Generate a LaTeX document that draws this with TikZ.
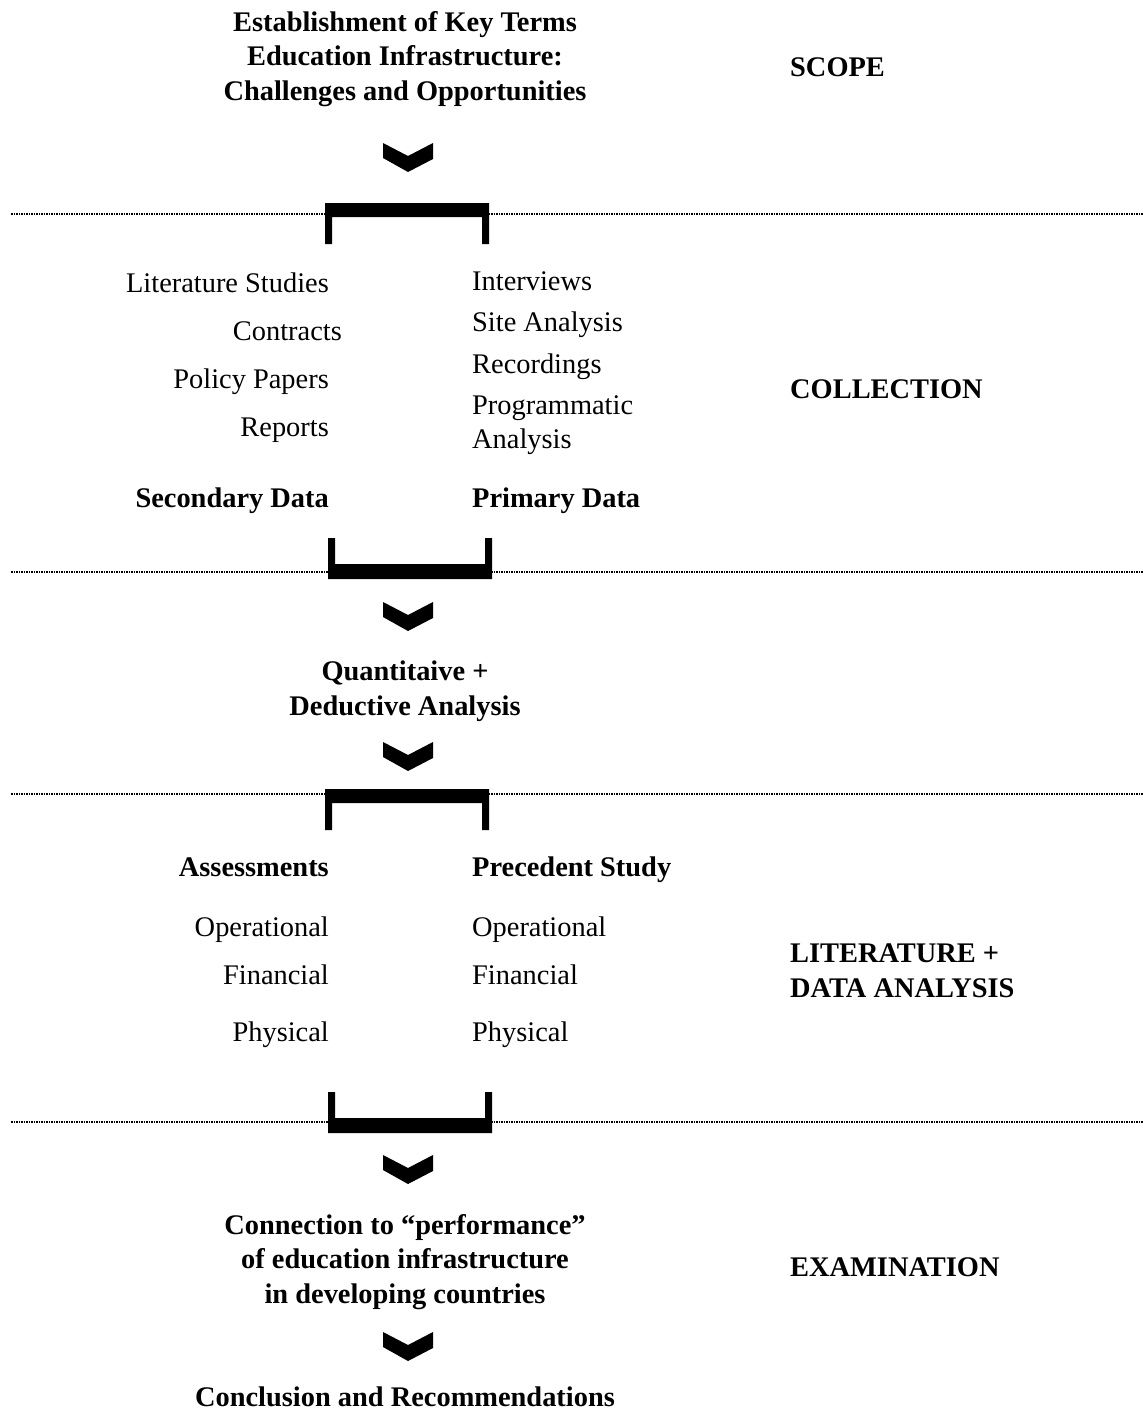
\documentclass[tikz,border=0pt]{standalone}
\usepackage{fontspec}
\setmainfont{Liberation Serif}
\begin{document}
\begin{tikzpicture}[x=1pt,y=-1pt,
  txt/.style={font=\fontsize{28.4}{34.5}\selectfont, inner sep=0pt},
  btxt/.style={font=\fontsize{28.4}{34.5}\selectfont\bfseries, inner sep=0pt, align=center},
  rlab/.style={btxt, anchor=base west, align=left},
  lcol/.style={txt, anchor=base east},
  rcol/.style={txt, anchor=base west},
  sep/.style={line width=1.5pt, dash pattern=on 1.5pt off 1pt},
  chev/.pic={\fill (-25,0) -- (0,13) -- (25,0) -- (25,16) -- (0,29) -- (-25,15) -- cycle;},
  topbr/.pic={\fill (0,0) -- (164,0) -- (164,41) -- (157,41) -- (157,14) -- (7,14) -- (7,41) -- (0,41) -- cycle;},
  botbr/.pic={\fill (0,0) -- (7,0) -- (7,26) -- (157,26) -- (157,0) -- (164,0) -- (164,41) -- (0,41) -- cycle;}
]
\useasboundingbox (0,0) rectangle (1143,1409);

% separators
\draw[sep] (11,214) -- (1143,214);
\draw[sep] (11,572) -- (1143,572);
\draw[sep] (11,794) -- (1143,794);
\draw[sep] (11,1122) -- (1143,1122);

% title
\node[btxt, anchor=base] (title) at (405,100) {Establishment of Key Terms\\Education Infrastructure:\\Challenges and Opportunities};
\node[rlab] (scope) at (790,76) {SCOPE};

\pic at (408,143) {chev};
\pic at (325,203) {topbr};

% collection
\node[lcol] (lit) at (329,292) {Literature Studies};
\node[lcol] (con) at (342,340) {Contracts};
\node[lcol] (pol) at (329,388) {Policy Papers};
\node[lcol] (rep) at (329,436) {Reports};
\node[lcol, font=\fontsize{28.4}{34.5}\selectfont\bfseries] (sec) at (329,507) {Secondary Data};

\node[rcol] (int) at (472,290) {Interviews};
\node[rcol] (site) at (472,331) {Site Analysis};
\node[rcol] (rec) at (472,373) {Recordings};
\node[rcol] (prog) at (472,414) {Programmatic};
\node[rcol] (ana) at (472,448) {Analysis};
\node[rcol, font=\fontsize{28.4}{34.5}\selectfont\bfseries] (pri) at (472,507) {Primary Data};

\node[rlab] (coll) at (790,398) {COLLECTION};

\pic at (328,538) {botbr};
\pic at (408,602) {chev};

\node[btxt, anchor=base] (quant) at (405,715) {Quantitaive +\\Deductive Analysis};

\pic at (408,742) {chev};
\pic at (325,789) {topbr};

% literature + data analysis
\node[lcol, font=\fontsize{28.4}{34.5}\selectfont\bfseries] (ass) at (329,876) {Assessments};
\node[rcol, font=\fontsize{28.4}{34.5}\selectfont\bfseries] (prec) at (472,876) {Precedent Study};
\node[lcol] (op1) at (329,936) {Operational};
\node[lcol] (fi1) at (329,984) {Financial};
\node[lcol] (ph1) at (329,1041) {Physical};
\node[rcol] (op2) at (472,936) {Operational};
\node[rcol] (fi2) at (472,984) {Financial};
\node[rcol] (ph2) at (472,1041) {Physical};

\node[rlab] (lda) at (790,997) {LITERATURE +\\DATA ANALYSIS};

\pic at (328,1092) {botbr};
\pic at (408,1155) {chev};

\node[btxt, anchor=base] (conn) at (405,1303) {Connection to “performance”\\of education infrastructure\\in developing countries};
\node[rlab] (exam) at (790,1276) {EXAMINATION};

\pic at (408,1332) {chev};

\node[btxt, anchor=base] (concl) at (405,1406) {Conclusion and Recommendations};
\end{tikzpicture}
\end{document}
